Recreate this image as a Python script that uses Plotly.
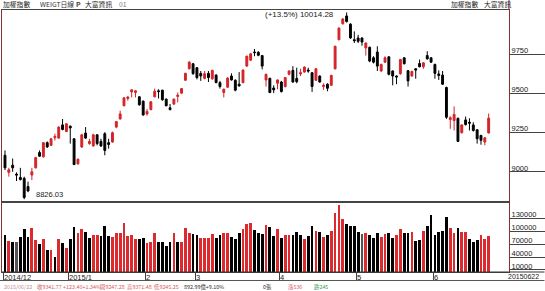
import plotly.graph_objects as go

# ---- data ----
open_ = [9106, 8997, 9043, 8986, 8965, 8959, 8907, 8980, 9026, 9123,
         9096, 9186, 9169, 9217, 9215, 9299, 9257, 9291, 9211, 9051,
         9159, 9247, 9180, 9165, 9236, 9194, 9243, 9186, 9190, 9285,
         9337, 9421, 9467, 9509, 9505, 9478, 9450, 9369, 9396, 9478,
         9516, 9520, 9463, 9408, 9432, 9480, 9501, 9583, 9656, 9688,
         9663, 9627, 9595, 9627, 9593, 9616, 9568, 9505, 9539, 9610,
         9583, 9558, 9568, 9673, 9711, 9763, 9761, 9740, 9585, 9595,
         9534, 9564, 9572, 9543, 9621, 9646, 9595, 9623, 9635, 9648,
         9631, 9583, 9610, 9543, 9558, 9551, 9656, 9841, 9942, 9992,
         9940, 9841, 9852, 9852, 9789, 9793, 9726, 9763, 9642, 9698,
         9732, 9642, 9610, 9625, 9726, 9644, 9610, 9656, 9690, 9669,
         9740, 9726, 9684, 9623, 9616, 9537, 9333, 9327, 9341, 9249,
         9331, 9316, 9299, 9268, 9232, 9190, 9247.28]
high = [9137, 9026, 9085, 8997, 9026, 8970, 8938, 9026, 9096, 9137,
        9190, 9194, 9215, 9243, 9291, 9337, 9310, 9295, 9215, 9085,
        9243, 9285, 9211, 9243, 9240, 9211, 9253, 9211, 9257, 9324,
        9390, 9476, 9484, 9526, 9520, 9480, 9455, 9400, 9450, 9530,
        9526, 9522, 9467, 9432, 9467, 9505, 9534, 9631, 9705, 9692,
        9667, 9642, 9642, 9642, 9650, 9621, 9579, 9530, 9602, 9627,
        9589, 9635, 9652, 9740, 9757, 9782, 9768, 9744, 9625, 9600,
        9551, 9589, 9579, 9604, 9646, 9673, 9663, 9656, 9671, 9663,
        9635, 9660, 9614, 9564, 9564, 9618, 9803, 9919, 9978, 10014.28,
        9946, 9894, 9872, 9856, 9824, 9797, 9736, 9799, 9688, 9736,
        9736, 9646, 9614, 9719, 9730, 9648, 9644, 9660, 9715, 9698,
        9768, 9730, 9688, 9646, 9642, 9543, 9354, 9417, 9345, 9303,
        9352, 9341, 9316, 9272, 9236, 9221, 9371.48]
low = [9012, 8970, 9001, 8942, 8946, 8826.03, 8871, 8948, 9022, 9096,
       9091, 9152, 9165, 9200, 9211, 9264, 9253, 9180, 9043, 9047,
       9152, 9211, 9173, 9161, 9169, 9159, 9106, 9148, 9186, 9278,
       9333, 9417, 9453, 9474, 9474, 9421, 9358, 9358, 9392, 9474,
       9467, 9453, 9417, 9392, 9425, 9442, 9497, 9579, 9652, 9618,
       9589, 9579, 9589, 9572, 9585, 9564, 9530, 9474, 9534, 9581,
       9513, 9543, 9564, 9669, 9705, 9736, 9736, 9652, 9543, 9501,
       9501, 9526, 9505, 9537, 9614, 9568, 9564, 9610, 9631, 9631,
       9509, 9579, 9568, 9522, 9513, 9547, 9652, 9837, 9938, 9950,
       9847, 9820, 9820, 9803, 9740, 9698, 9690, 9642, 9637, 9694,
       9614, 9551, 9558, 9618, 9684, 9543, 9606, 9593, 9665, 9656,
       9715, 9694, 9593, 9585, 9553, 9337, 9274, 9264, 9190, 9245,
       9295, 9264, 9257, 9180, 9173, 9169, 9245.25]
close = [9026, 9014, 9026, 8980, 8951, 8837, 8879, 9001, 9091, 9100,
         9186, 9159, 9211, 9226, 9285, 9270, 9306, 9280, 9047, 9081,
         9236, 9215, 9194, 9236, 9180, 9165, 9137, 9175, 9249, 9320,
         9369, 9471, 9476, 9522, 9516, 9427, 9362, 9385, 9446, 9513,
         9511, 9459, 9421, 9396, 9463, 9488, 9530, 9627, 9698, 9625,
         9600, 9610, 9625, 9600, 9646, 9568, 9543, 9526, 9597, 9585,
         9520, 9547, 9648, 9736, 9751, 9759, 9742, 9673, 9621, 9505,
         9522, 9585, 9511, 9600, 9642, 9572, 9574, 9631, 9667, 9642,
         9543, 9656, 9572, 9551, 9532, 9614, 9799, 9915, 9973, 9957,
         9852, 9835, 9831, 9826, 9820, 9705, 9698, 9673, 9684, 9726,
         9621, 9610, 9604, 9715, 9688, 9579, 9639, 9648, 9669, 9694,
         9719, 9698, 9627, 9614, 9558, 9348, 9345, 9366, 9194, 9299,
         9301, 9310, 9264, 9211, 9201, 9217, 9341.77]
volume = [90500, 77500, 75500, 75500, 85500, 103500, 86500, 106500, 78500, 69500,
          82500, 56500, 56500, 39500, 80500, 71500, 59500, 80500, 108500, 94500,
          104500, 96500, 84500, 90500, 90500, 88500, 112500, 88500, 85500, 95500,
          95500, 117500, 89500, 90500, 81500, 81500, 84500, 71500, 75500, 94500,
          73500, 73500, 65500, 74500, 94500, 75500, 75500, 107500, 94500, 93500,
          91000, 83000, 83000, 83000, 93000, 84000, 91000, 95000, 95000, 85000,
          81000, 95000, 104000, 115000, 119000, 102000, 95000, 93000, 114000, 110000,
          89000, 104000, 84000, 91000, 90000, 91000, 97000, 91000, 81000, 89000,
          112000, 100000, 97000, 85000, 91000, 101000, 142000, 161000, 128000, 116000,
          112000, 112000, 97000, 92000, 95000, 91000, 84000, 95000, 87000, 93000,
          96000, 83000, 91000, 105000, 96000, 96000, 97000, 76000, 79000, 100000,
          112000, 138000, 91000, 97000, 100000, 133000, 108000, 95000, 107000, 97000,
          97000, 81000, 75000, 78000, 91000, 81000, 89000]
# volume bar colour: 1 = up (red), 0 = down (black), 2 = flat (grey)
volume_dir = [0, 1, 0, 2, 0, 0, 0, 1, 1, 0,
              1, 0, 1, 0, 1, 0, 1, 0, 0, 1,
              1, 0, 0, 1, 1, 0, 0, 0, 1, 1,
              1, 1, 1, 1, 1, 0, 0, 1, 1, 1,
              0, 0, 0, 0, 1, 0, 1, 1, 1, 0,
              0, 1, 1, 1, 1, 0, 0, 1, 1, 0,
              0, 0, 1, 1, 1, 0, 0, 0, 1, 0,
              0, 1, 0, 1, 1, 0, 0, 0, 1, 0,
              0, 1, 0, 1, 0, 1, 1, 1, 1, 0,
              0, 0, 0, 2, 1, 0, 0, 0, 1, 1,
              0, 0, 1, 1, 0, 0, 1, 0, 0, 1,
              0, 0, 0, 0, 0, 0, 1, 1, 0, 1,
              1, 0, 0, 0, 1, 1, 1]
month_starts = [0, 17, 37, 50, 72, 92, 112]
month_labels = ["2014/12", "2015/1", "2", "3", "4", "5", "6"]
price_ticks = [9000, 9250, 9500, 9750]
volume_ticks = [10000, 40000, 70000, 100000, 130000]

RED = "#d42429"
VRED = "#dc2a2e"
BLACK = "#000000"
idx = list(range(len(close)))
vol_colors = [{1: VRED, 0: BLACK, 2: "#555555"}[d] for d in volume_dir]

fig = go.Figure()
fig.add_trace(go.Candlestick(
    x=idx, open=open_, high=high, low=low, close=close,
    increasing=dict(line=dict(color=RED, width=1), fillcolor=RED),
    decreasing=dict(line=dict(color=BLACK, width=1), fillcolor=BLACK),
    whiskerwidth=0, xaxis="x", yaxis="y", showlegend=False, hoverinfo="skip"))
fig.add_trace(go.Bar(
    x=idx, y=volume, marker=dict(color=vol_colors, line=dict(width=0)),
    width=0.72, xaxis="x2", yaxis="y2", showlegend=False, hoverinfo="skip"))

hi_i = high.index(max(high))
lo_i = low.index(min(low))
txt = dict(family="Liberation Sans, Arial", size=7.5, color="#222")

ann = []
ann.append(dict(x=hi_i, y=max(high), xref="x", yref="y", text="(+13.5%) 10014.28",
                showarrow=False, xanchor="right", yanchor="middle", xshift=-12, yshift=-2,
                borderpad=0, font=dict(family="Liberation Sans, Arial", size=8, color="#222")))
ann.append(dict(x=lo_i, y=min(low), xref="x", yref="y", text="%.2f" % min(low),
                showarrow=False, xanchor="left", yanchor="middle", xshift=11, yshift=5,
                borderpad=0, font=txt))
for s, lab in zip(month_starts, month_labels):
    ann.append(dict(x=s - 0.5, y=0, xref="x2", yref="paper", text=lab, showarrow=False,
                    xanchor="left", yanchor="top", xshift=0, yshift=0, borderpad=0, font=txt))
ann.append(dict(x=1.0, y=0, xref="paper", yref="paper", text="20150622", showarrow=False,
                xanchor="left", yanchor="top", xshift=-2, yshift=0, borderpad=0,
                font=dict(family="Liberation Sans, Arial", size=7, color="#222")))

# header row
hdr = [(0, "加權指數", "#222"), (40, "WEIGT日線", "#333"), (79, "𝐏", "#444"),
       (88, "大富資訊", "#222"), (125, "01", "#777"),
       (482, "加權指數", "#222"), (517, "大富資訊", "#222")]
for px, t, col in hdr:
    ann.append(dict(x=px / 545, y=1 + 5.5 / 262, xref="paper", yref="paper", text=t,
                    showarrow=False, xanchor="left", yanchor="middle", borderpad=0,
                    font=dict(family="Noto Sans CJK TC", size=6.8, color=col)))

# info row
info = [(1, "2015/06/22", "#c98a8a"), (37, "收9341.77", "#d85a5a"), (64, "+123.40+1.34%", "#d85a5a"),
        (104, "開9247.28", "#d85a5a"), (133, "高9371.48", "#d85a5a"), (162, "低9245.25", "#d85a5a"),
        (195, "892.99億+9.10%", "#333"), (279, "0張", "#333"), (306, "漲536", "#e05a6a"),
        (334, "跌245", "#3f9a5a")]
for px, t, col in info:
    ann.append(dict(x=px / 545, y=-14.5 / 262, xref="paper", yref="paper", text=t,
                    showarrow=False, xanchor="left", yanchor="middle", borderpad=0,
                    font=dict(family="Noto Sans CJK TC", size=5.4, color=col)))

shapes = [dict(type="line", xref="paper", yref="paper", x0=0, x1=1.07, y0=0, y1=0,
               line=dict(color="#333", width=1))]
shapes.append(dict(type="line", xref="paper", yref="paper", x0=-0.01, x1=1.07,
                   y0=-8.5 / 262, y1=-8.5 / 262, line=dict(color="#555", width=1)))
shapes.append(dict(type="line", xref="paper", yref="paper", x0=1, x1=1, y0=1, y1=1 + 10 / 262,
                   line=dict(color="#8a3030", width=1)))

axis_font = dict(family="Liberation Sans, Arial", size=7.5, color="#222")
fig.update_layout(
    width=545, height=291, margin=dict(l=1, r=35, t=10, b=19),
    paper_bgcolor="white", plot_bgcolor="white", bargap=0,
    xaxis=dict(domain=[0, 1], range=[-0.78, 131.3], anchor="y", showticklabels=False,
               showgrid=False, zeroline=False, showline=True, mirror=True,
               linecolor="#444", linewidth=1, rangeslider=dict(visible=False), ticks=""),
    yaxis=dict(domain=[0.271, 1], range=[8815, 10030], side="right", anchor="x",
               tickvals=price_ticks, ticks="outside", ticklen=35, tickcolor="#444",
               tickwidth=1, ticklabelstandoff=-35, ticklabelshift=-4,
               showgrid=False, zeroline=False, showline=True, mirror=True,
               linecolor="#8a3030", tickfont=axis_font),
    xaxis2=dict(domain=[0, 1], range=[-0.78, 131.3], anchor="y2", matches="x",
                tickvals=[s - 0.5 for s in month_starts], ticks="outside", ticklen=8,
                tickcolor="#444", showticklabels=False, showgrid=False, zeroline=False,
                showline=True, mirror=True, linecolor="#444"),
    yaxis2=dict(domain=[0, 0.263], range=[5300, 164700], side="right", anchor="x2",
                tickvals=volume_ticks, ticktext=[str(v) for v in volume_ticks],
                ticks="outside", ticklen=35, tickcolor="#444", tickwidth=1,
                ticklabelstandoff=-35, ticklabelshift=-4,
                showgrid=False, zeroline=False, showline=True, mirror=True,
                linecolor="#8a3030", tickfont=axis_font),
    annotations=ann, shapes=shapes,
)
fig.write_html("out.html")
